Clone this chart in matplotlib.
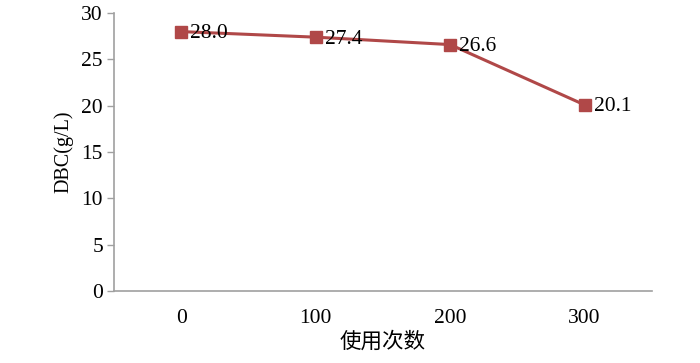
import matplotlib
matplotlib.use("Agg")
import matplotlib.pyplot as plt

categories = ["0", "100", "200", "300"]
values = [28.0, 27.4, 26.6, 20.1]
labels = ["28.0", "27.4", "26.6", "20.1"]
yticks = [0, 5, 10, 15, 20, 25, 30]

plt.rcParams['font.family'] = ['Liberation Serif', 'Noto Sans CJK SC']

fig = plt.figure(figsize=(7, 3.63), dpi=100)
ax = fig.add_axes([0.163, 0.198, 0.768, 0.766])

x = list(range(len(categories)))
color = "#B04848"
ax.plot(x, values, color=color, lw=2.2, marker="s", markersize=9,
        markerfacecolor=color, markeredgecolor=color, zorder=3)
for xi, v, lab in zip(x, values, labels):
    ax.annotate(lab, (xi, v), xytext=(6.5, -1.5), textcoords="offset points",
                ha="left", va="center", fontsize=15.5, color="black", zorder=4)

ax.set_xlim(-0.5, len(categories) - 0.5)
ax.set_ylim(0, 30)
ax.set_xticks(x)
ax.set_xticklabels(categories)
ax.set_yticks(yticks)
ax.tick_params(axis="x", length=0, labelsize=15.5, pad=13)
ax.tick_params(axis="y", length=5, width=1, color="#A0A0A0", labelsize=15.5, pad=3)

for s in ["top", "right"]:
    ax.spines[s].set_visible(False)
for s in ["left", "bottom"]:
    ax.spines[s].set_color("#A0A0A0")
    ax.spines[s].set_linewidth(1.2)

ax.set_ylabel("DBC(g/L)", fontsize=14.5, labelpad=6)
ax.set_xlabel("使用次数", fontsize=15.5, labelpad=3)

fig.savefig("out.png", dpi=100)
